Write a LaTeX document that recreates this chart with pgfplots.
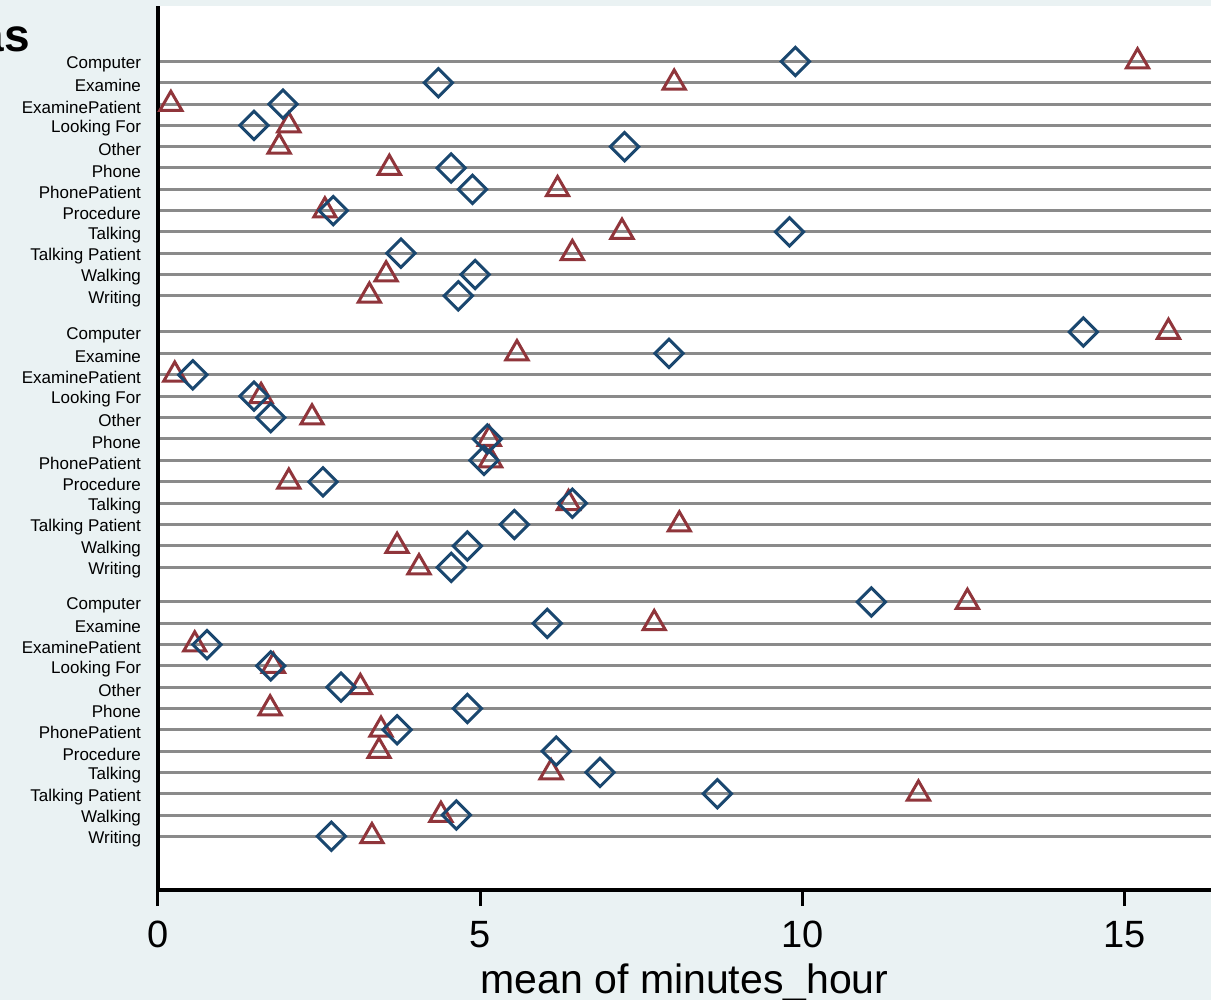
\documentclass[border=0pt]{standalone}
\usepackage{pgfplots}
\pgfplotsset{compat=1.18}
\usepackage{pgfplotstable}
\usepackage{fontspec}
\setmainfont{Liberation Sans}
\definecolor{bgc}{HTML}{EAF2F3}
\definecolor{navy}{HTML}{1A476F}
\definecolor{maroon}{HTML}{90353B}
\definecolor{gridc}{HTML}{8A8A8A}

\pgfplotstableread{
y d t
-61.5 9.89 15.20
-82.8 4.35 8.01
-104.1 1.94 0.20
-125.4 1.49 2.03
-146.7 7.24 1.88
-168.0 4.55 3.59
-189.3 4.88 6.20
-210.6 2.72 2.59
-231.9 9.80 7.20
-253.2 3.77 6.43
-274.5 4.92 3.54
-295.8 4.66 3.28
-332.0 14.36 15.68
-353.4 7.93 5.57
-374.8 0.54 0.26
-396.2 1.49 1.60
-417.6 1.75 2.39
-439.0 5.11 5.14
-460.4 5.06 5.16
-481.8 2.56 2.03
-503.2 6.43 6.37
-524.6 5.53 8.09
-546.0 4.80 3.71
-567.4 4.55 4.05
-602.0 11.07 12.56
-623.3 6.04 7.70
-644.6 0.76 0.57
-665.9 1.75 1.79
-687.2 2.84 3.14
-708.5 4.80 1.74
-729.8 3.71 3.46
-751.1 6.18 3.43
-772.4 6.86 6.10
-793.7 8.68 11.80
-815.0 4.63 4.39
-836.3 2.69 3.32
}\data

\begin{document}
\begin{tikzpicture}
\path[use as bounding box, fill=bgc] (-79bp,-55bp) rectangle (526.5bp,445bp);
\clip (-79bp,-55bp) rectangle (526.5bp,445bp);
\node[anchor=base east, font=\bfseries\fontsize{23bp}{25bp}\selectfont, inner sep=0pt] at (-64bp,419bp) {as};
\begin{axis}[at={(0,0)}, anchor=south west, scale only axis,
  width=526.5bp, height=442bp,
  xmin=0, xmax=16.34, ymin=-890, ymax=-6,
  axis background/.style={fill=white},
  axis lines=left, axis line style={-, line width=2bp, black},
  xtick={0,5,10,15}, tick align=outside, major tick length=8bp,
  xtick style={line width=1.5bp, black},
  ytick={-61.5,-82.8,-104.1,-125.4,-146.7,-168.0,-189.3,-210.6,-231.9,-253.2,-274.5,-295.8,
         -332.0,-353.4,-374.8,-396.2,-417.6,-439.0,-460.4,-481.8,-503.2,-524.6,-546.0,-567.4,
         -602.0,-623.3,-644.6,-665.9,-687.2,-708.5,-729.8,-751.1,-772.4,-793.7,-815.0,-836.3},
  yticklabels={Computer,Examine,ExaminePatient,Looking For,Other,Phone,PhonePatient,Procedure,Talking,Talking Patient,Walking,Writing,
               Computer,Examine,ExaminePatient,Looking For,Other,Phone,PhonePatient,Procedure,Talking,Talking Patient,Walking,Writing,
               Computer,Examine,ExaminePatient,Looking For,Other,Phone,PhonePatient,Procedure,Talking,Talking Patient,Walking,Writing},
  ytick style={draw=none},
  ymajorgrids, grid style={gridc, line width=1.5bp},
  /pgf/number format/assume math mode=true,
  xticklabel style={font=\fontsize{19bp}{22bp}\selectfont, yshift=-4bp},
  yticklabel style={font=\fontsize{8.5bp}{10bp}\selectfont, xshift=3bp, yshift=-1.5bp},
  xlabel={mean of minutes\_hour},
  xlabel style={font=\fontsize{20.5bp}{23bp}\selectfont, yshift=-1bp},
]
\addplot[maroon, only marks, mark=triangle, mark size=6.4bp, mark options={line width=1.5bp}] table[x=t, y=y] {\data};
\addplot[navy, only marks, mark=square, mark size=5bp, mark options={rotate=45, line width=1.5bp}] table[x=d, y=y] {\data};
\end{axis}
\end{tikzpicture}
\end{document}
